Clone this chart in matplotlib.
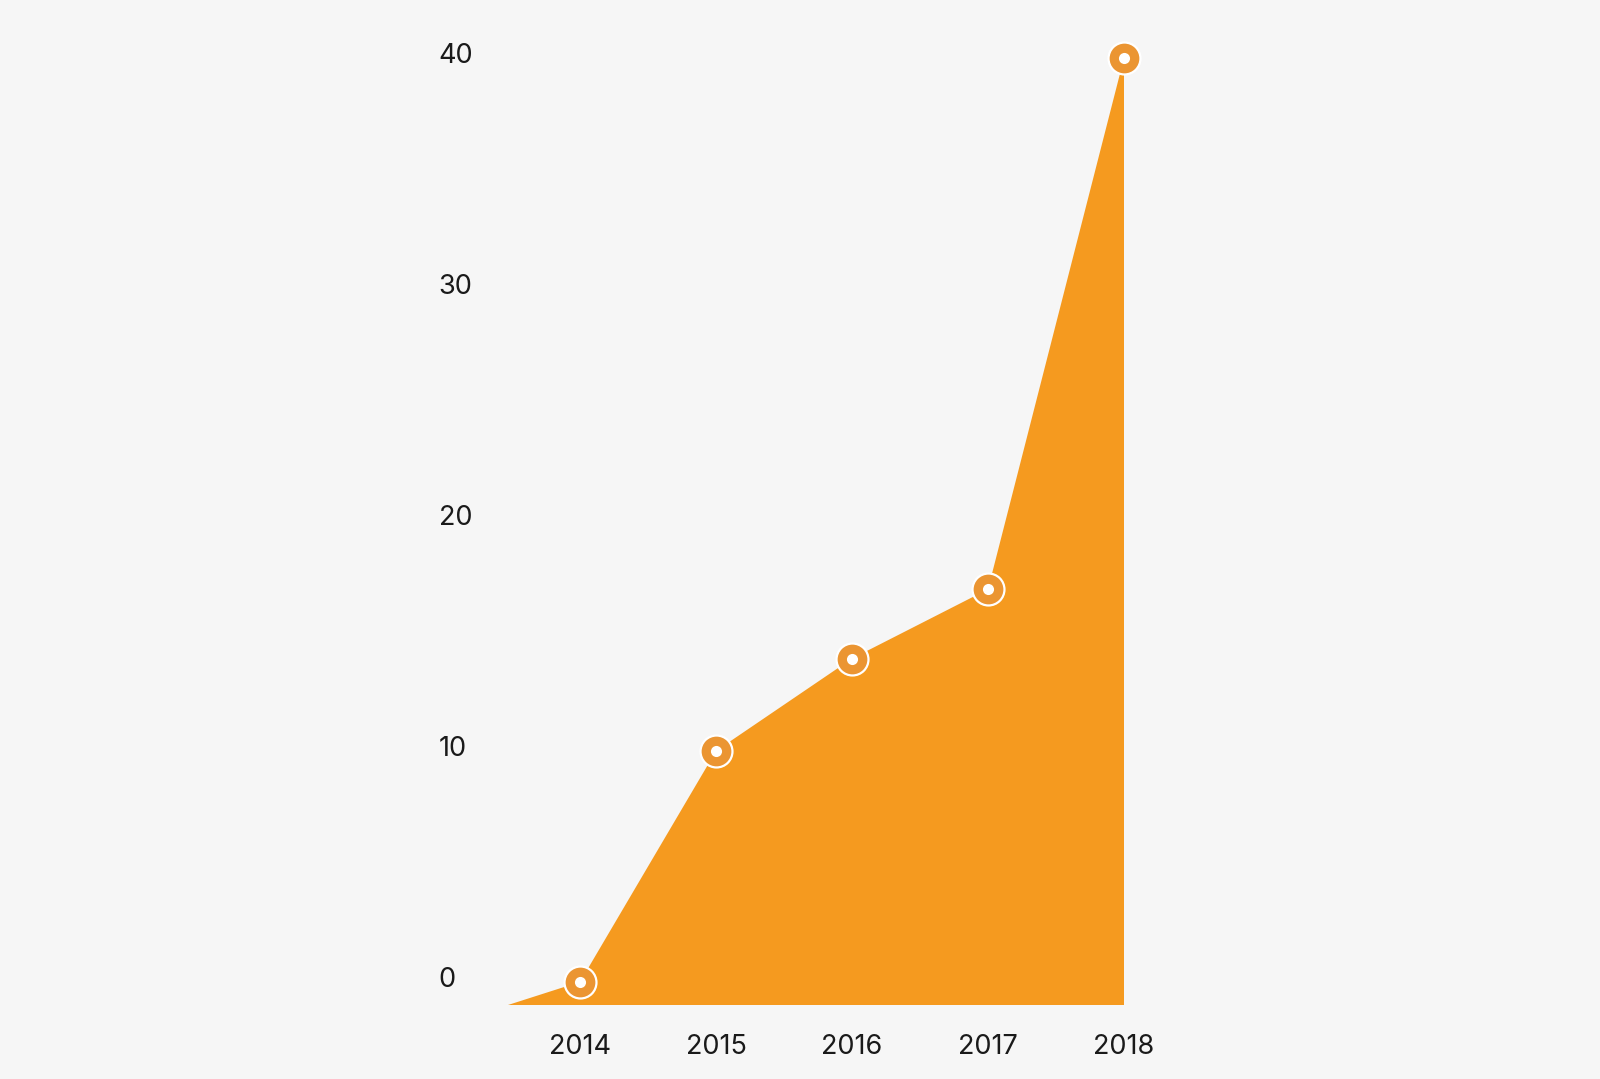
import matplotlib
matplotlib.use("Agg")
import matplotlib.pyplot as plt
import matplotlib.transforms as mtransforms

# Data
years = [2014, 2015, 2016, 2017, 2018]
values = [0, 10, 14, 17, 40]
area_start_x = 2013.47   # area begins left of first year at baseline
baseline = -1
ytick_values = [0, 10, 20, 30, 40]
ytick_labels = ["0", "10", "20", "30", "40"]
xtick_labels = ["2014", "2015", "2016", "2017", "2018"]

BG = "#f6f6f6"
AREA = "#f59a1f"
RING = "#eb9532"
TEXT = "#1a1a1a"
FONT = "Inter"
FS = 19.5

W, H = 1600, 1079
fig = plt.figure(figsize=(W / 100, H / 100), dpi=100, facecolor=BG)
left_px, right_px = 508, 1125
bottom_px, top_px = 1005, 58
ax = fig.add_axes([left_px / W, (H - bottom_px) / H, (right_px - left_px) / W, (bottom_px - top_px) / H])
ax.set_facecolor(BG)

xs = [area_start_x] + years + [years[-1]]
ys = [baseline] + values + [baseline]
ax.fill(xs, ys, color=AREA, lw=0, zorder=1)

ax.plot(years, values, ls="none", marker="o", ms=23, mfc=RING, mec="white", mew=1.6,
        zorder=3, clip_on=False)
ax.plot(years, values, ls="none", marker="o", ms=8, mfc="white", mec="none",
        zorder=4, clip_on=False)

x_right = years[-1] + (years[-1] - area_start_x) * (right_px - 1124) / (1124 - left_px)
ax.set_xlim(area_start_x, x_right)
ax.set_ylim(baseline, ytick_values[-1])

for s in ax.spines.values():
    s.set_visible(False)

ax.set_yticks(ytick_values)
ax.set_yticklabels(ytick_labels)
ax.tick_params(axis="y", length=0, pad=50, labelsize=FS, labelcolor=TEXT)
offset = mtransforms.ScaledTranslation(0, 5 / 100, fig.dpi_scale_trans)
for lab in ax.get_yticklabels():
    lab.set_horizontalalignment("left")
    lab.set_fontfamily(FONT)
    lab.set_transform(lab.get_transform() + offset)

ax.set_xticks(years)
ax.set_xticklabels(xtick_labels)
ax.tick_params(axis="x", length=0, pad=21, labelsize=FS, labelcolor=TEXT)
for lab in ax.get_xticklabels():
    lab.set_fontfamily(FONT)

fig.savefig("out.png", dpi=100, facecolor=BG)
